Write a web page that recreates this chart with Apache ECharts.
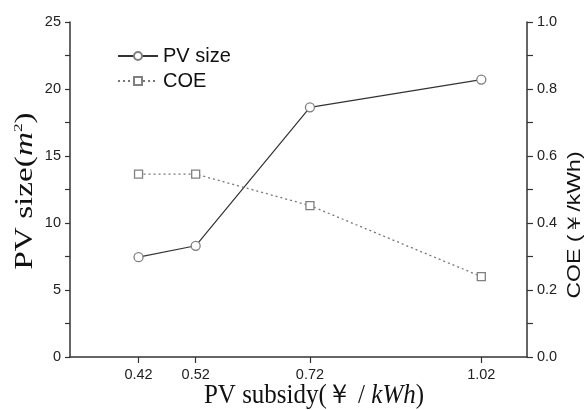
<!DOCTYPE html>
<html>
<head>
<meta charset="utf-8">
<script src="https://cdn.jsdelivr.net/npm/echarts@6/dist/echarts.min.js"></script>
<style>
html, body { margin: 0; padding: 0; background: #fff; }
#main { width: 587px; height: 410px; }
</style>
</head>
<body>
<div id="main"></div>
<script>
var subsidy = [0.42, 0.52, 0.72, 1.02];
var pvSize = [7.45, 8.3, 18.63, 20.7];
var coe = [0.546, 0.546, 0.452, 0.24];
var xTicks = [0.42, 0.52, 0.72, 1.02];

var chart = echarts.init(document.getElementById('main'));

function pairs(xs, ys) {
    var out = [];
    for (var i = 0; i < xs.length; i++) out.push([xs[i], ys[i]]);
    return out;
}

var tickFont = { color: '#222', fontFamily: 'Liberation Sans, Arial', fontSize: 14.5 };
var serif = 'Liberation Serif, Times New Roman';

option = {
    backgroundColor: '#fff',
    animation: false,
    grid: { left: 70, right: 60, top: 22, bottom: 53 },
    legend: {
        orient: 'vertical',
        left: 112,
        top: 41,
        itemWidth: 40,
        itemHeight: 10,
        itemGap: 5,
        textStyle: { color: '#111', fontFamily: 'Liberation Sans, Arial', fontSize: 20 },
        data: ['PV size', 'COE']
    },
    xAxis: {
        type: 'value',
        min: 0.3,
        max: 1.1,
        splitLine: { show: false },
        axisLine: { lineStyle: { color: '#333', width: 1.5 } },
        axisTick: { show: true, customValues: xTicks, length: 6, lineStyle: { color: '#333', width: 1.2 } },
        axisLabel: Object.assign({ customValues: xTicks, margin: 10, formatter: function (v) { return v.toFixed(2); } }, tickFont)
    },
    yAxis: [{
        type: 'value',
        min: 0,
        max: 25,
        interval: 5,
        splitLine: { show: false },
        axisLine: { show: true, lineStyle: { color: '#333', width: 1.5 } },
        axisTick: { show: true, length: 5, lineStyle: { color: '#333', width: 1.2 } },
        minorTick: { show: true, splitNumber: 2, length: 5, lineStyle: { color: '#333', width: 1.2 } },
        axisLabel: Object.assign({ margin: 9 }, tickFont)
    }, {
        type: 'value',
        min: 0,
        max: 1,
        interval: 0.2,
        position: 'right',
        splitLine: { show: false },
        axisLine: { show: true, lineStyle: { color: '#333', width: 1.5 } },
        axisTick: { show: true, length: 6, lineStyle: { color: '#333', width: 1.2 } },
        minorTick: { show: true, splitNumber: 2, length: 6, lineStyle: { color: '#333', width: 1.2 } },
        axisLabel: Object.assign({ margin: 10, formatter: function (v) { return v.toFixed(1); } }, tickFont)
    }],
    graphic: [{
        type: 'text',
        x: 25, y: 191,
        rotation: Math.PI / 2,
        scaleX: 1.33,
        style: {
            text: '{a|PV size(}{i|m}{s|2}{a|)}',
            textAlign: 'center', textVerticalAlign: 'middle',
            align: 'center', verticalAlign: 'middle',
            rich: {
                a: { fontFamily: serif, fontSize: 25, fill: '#111' },
                i: { fontFamily: serif, fontSize: 25, fontStyle: 'italic', fill: '#111' },
                s: { fontFamily: serif, fontSize: 13, fill: '#111', verticalAlign: 'top', padding: [0, 0, 12, 0] }
            }
        }
    }, {
        type: 'text',
        x: 575, y: 225,
        rotation: Math.PI / 2,
        scaleX: 1.28,
        style: {
            text: 'COE (￥/kWh)',
            textAlign: 'center', textVerticalAlign: 'middle',
            align: 'center', verticalAlign: 'middle',
            fontFamily: 'Liberation Sans, Arial', fontSize: 18, fill: '#111'
        }
    }, {
        type: 'text',
        x: 314, y: 396,
        scaleY: 1.1,
        style: {
            text: '{a|PV subsidy(￥ / }{i|kWh}{a|)}',
            textAlign: 'center', textVerticalAlign: 'middle',
            align: 'center', verticalAlign: 'middle',
            rich: {
                a: { fontFamily: serif, fontSize: 25, fill: '#111' },
                i: { fontFamily: serif, fontSize: 25, fontStyle: 'italic', fill: '#111' }
            }
        }
    }],
    series: [{
        name: 'PV size',
        type: 'line',
        yAxisIndex: 0,
        data: pairs(subsidy, pvSize),
        symbol: 'circle',
        symbolSize: 9,
        lineStyle: { color: '#333', width: 1.2 },
        itemStyle: { color: '#fff', borderColor: '#808080', borderWidth: 1.3 }
    }, {
        name: 'COE',
        type: 'line',
        yAxisIndex: 1,
        data: pairs(subsidy, coe),
        symbol: 'rect',
        symbolSize: 8,
        lineStyle: { color: '#777', width: 1.3, type: [2, 3] },
        itemStyle: { color: '#fff', borderColor: '#808080', borderWidth: 1.3 }
    }]
};
chart.setOption(option);
</script>
</body>
</html>
